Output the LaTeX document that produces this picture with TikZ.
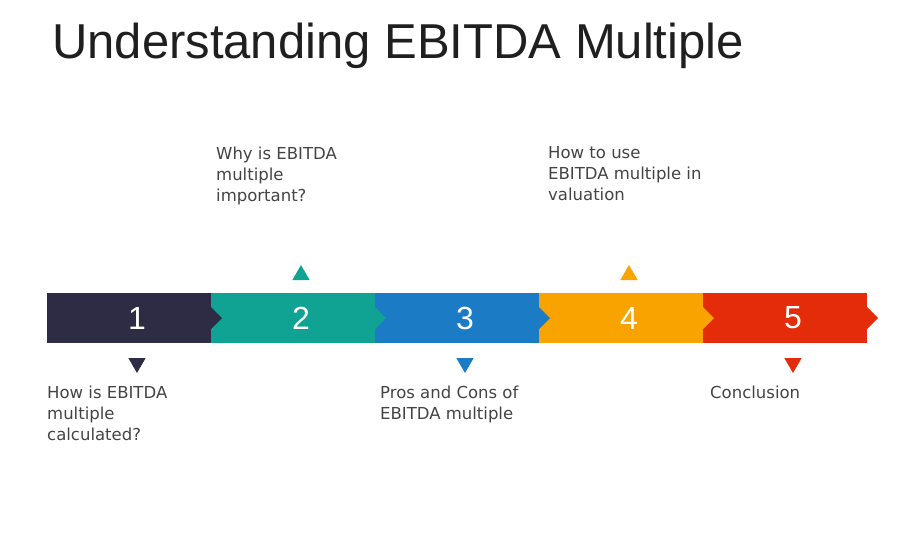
\documentclass[tikz,border=0pt]{standalone}
\usepackage{fontspec}
\setmainfont{Liberation Sans}
\newfontfamily\lblfont{DejaVu Sans}
\usetikzlibrary{positioning,shapes.geometric}
\definecolor{segA}{HTML}{2E2C45}
\definecolor{segB}{HTML}{10A394}
\definecolor{segC}{HTML}{1B7BC4}
\definecolor{segD}{HTML}{F8A300}
\definecolor{segE}{HTML}{E42B0A}
\definecolor{txt}{HTML}{444444}
\begin{document}
\begin{tikzpicture}[x=1pt,y=-1pt,line join=round,
	seg/.style={rectangle,minimum width=164pt,minimum height=50pt,inner sep=0pt,outer sep=0pt,
		text=white,font=\fontsize{32}{32}\selectfont,execute at begin node=\hspace*{16pt}},
	markup/.style={regular polygon,regular polygon sides=3,minimum size=20pt,inner sep=0pt},
	markdown/.style={markup,shape border rotate=180},
	lbl/.style={anchor=north west,align=left,inner sep=0pt,text=txt,
		font=\lblfont\fontsize{16.5}{21}\selectfont}]
	\useasboundingbox (0,0) rectangle (900,550);
	\node[anchor=base west,inner sep=0pt,text=black!88,font=\fontsize{49}{55}\selectfont] (title) at (52,58) {Understanding EBITDA Multiple};
	% the five steps of the bar
	\node[seg,fill=segA,anchor=north west] (s1) at (47,293) {1};
	\node[seg,fill=segB,right=0pt of s1] (s2) {2};
	\node[seg,fill=segC,right=0pt of s2] (s3) {3};
	\node[seg,fill=segD,right=0pt of s3] (s4) {4};
	\node[seg,fill=segE,right=0pt of s4] (s5) {5};
	\foreach \i/\c in {1/segA,2/segB,3/segC,4/segD,5/segE}
	\fill[\c] ([yshift=11pt]s\i.east) -- ([xshift=11pt]s\i.east) -- ([yshift=-11pt]s\i.east) -- cycle;
	% markers
	\node[markup,fill=segB] (m2) at ([xshift=8pt,yshift=18pt]s2.north) {};
	\node[markup,fill=segD] (m4) at ([xshift=8pt,yshift=18pt]s4.north) {};
	\node[markdown,fill=segA] (m1) at ([xshift=8pt,yshift=-20pt]s1.south) {};
	\node[markdown,fill=segC] (m3) at ([xshift=8pt,yshift=-20pt]s3.south) {};
	\node[markdown,fill=segE] (m5) at ([xshift=8pt,yshift=-20pt]s5.south) {};
	% labels
	\node[lbl] (l2) at (216,147) {Why is EBITDA\\multiple\\important?};
	\node[lbl] (l4) at (548,146) {How to use\\EBITDA multiple in\\valuation};
	\node[lbl] (l1) at (47,386) {How is EBITDA\\multiple\\calculated?};
	\node[lbl] (l3) at (380,386) {Pros and Cons of\\EBITDA multiple};
	\node[lbl] (l5) at (710,386) {Conclusion};
\end{tikzpicture}
\end{document}
